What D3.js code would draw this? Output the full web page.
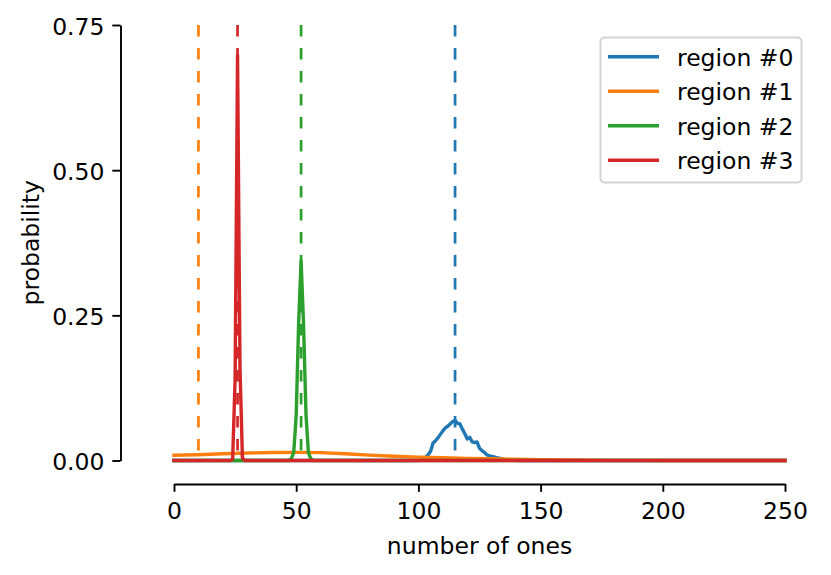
<!DOCTYPE html>
<html>
<head>
<meta charset="utf-8">
<script src="https://cdn.jsdelivr.net/npm/d3@7/dist/d3.min.js"></script>
<style>
  html, body { margin: 0; padding: 0; background: #fff; }
  text { font-family: "DejaVu Sans", sans-serif; }
</style>
</head>
<body>
<svg id="chart" width="831" height="575"></svg>
<script>
// ---------- data ----------
const regionNames = ["region #0", "region #1", "region #2", "region #3"];
const regionColors = ["#1f77b4", "#ff7f0e", "#2ca02c", "#d62728"];
const regionMeans = [115, 10, 52, 26];

const xTicks = [0, 50, 100, 150, 200, 250];
const yTicks = [0.00, 0.25, 0.50, 0.75];

// region #0 : integer counts starting at 100
const region0Start = 100;
const region0Values = [0.000, 0.001, 0.003, 0.006, 0.010, 0.016, 0.030, 0.034, 0.039, 0.045,
                       0.051, 0.056, 0.059, 0.063, 0.067, 0.069, 0.064, 0.063, 0.054, 0.046,
                       0.037, 0.040, 0.032, 0.031, 0.032, 0.021, 0.017, 0.014, 0.010, 0.008,
                       0.007, 0.006, 0.005, 0.004, 0.003, 0.002, 0.0015, 0.001, 0.0008, 0.0005, 0.0003];

// region #1 : broad curve, sampled every 10 ones from 0 to 250
const region1X = [0, 10, 20, 30, 40, 50, 60, 70, 80, 90, 100, 110, 120, 130, 140, 150, 160, 170, 180, 190, 200, 210, 220, 230, 240, 250];
const region1Values = [0.0090, 0.0100, 0.0115, 0.0128, 0.0137, 0.0140, 0.0135, 0.0115, 0.0092, 0.0074,
                       0.0059, 0.0047, 0.0037, 0.0029, 0.0022, 0.0015, 0.0010, 0.0006, 0.0003, 0.0002,
                       0.0001, 0.0, 0.0, 0.0, 0.0, 0.0];

// region #2 : integer counts starting at 48
const region2Start = 48;
const region2Values = [0.003, 0.014, 0.078, 0.237, 0.344, 0.235, 0.080, 0.013, 0.003];

// region #3 : integer counts starting at 24
const region3Start = 24;
const region3Values = [0.002, 0.140, 0.698, 0.160, 0.004];

// ---------- build full series over 0..250 ----------
const allX = d3.range(0, 251);
function fullSeries(start, values) {
  return allX.map(x => {
    const i = x - start;
    return [x, (i >= 0 && i < values.length) ? values[i] : 0];
  });
}
const series = [
  fullSeries(region0Start, region0Values),
  region1X.map((x, i) => [x, region1Values[i]]),
  fullSeries(region2Start, region2Values),
  fullSeries(region3Start, region3Values)
];

// ---------- layout ----------
const svg = d3.select("#chart");
const FONT = 23.5;
const x = d3.scaleLinear().domain([0, 250]).range([174, 785]);
const y = d3.scaleLinear().domain([0, 0.75]).range([460.5, 25]);

const line = d3.line().x(d => x(d[0])).y(d => y(d[1]));

// ---------- marks ----------
const gMarks = svg.append("g");
series.forEach((s, i) => {
  gMarks.append("path")
    .datum(s)
    .attr("d", line)
    .attr("fill", "none")
    .attr("stroke", regionColors[i])
    .attr("stroke-width", 3.4)
    .attr("stroke-linejoin", "round")
    .attr("stroke-linecap", "square");
  gMarks.append("line")
    .attr("x1", x(regionMeans[i])).attr("x2", x(regionMeans[i]))
    .attr("y1", y(0.75)).attr("y2", y(0))
    .attr("stroke", regionColors[i])
    .attr("stroke-width", 2.7)
    .attr("stroke-dasharray", "11.5 11.5");
});

// ---------- axes ----------
const yAxis = d3.axisLeft(y).tickValues(yTicks).tickFormat(d3.format(".2f"))
  .tickSize(8.2).tickSizeOuter(0).tickPadding(10);
const gy = svg.append("g").attr("transform", "translate(120.5,0)").call(yAxis);
gy.selectAll("text").attr("dy", null).attr("y", 9).attr("x", -16)
  .style("font-size", FONT + "px").attr("fill", "#000");

const xAxis = d3.axisBottom(x).tickValues(xTicks).tickFormat(d3.format("d"))
  .tickSize(7.8).tickSizeOuter(0);
const gx = svg.append("g").attr("transform", "translate(0,484)").call(xAxis);
gx.selectAll("text").attr("dy", null).attr("y", 34.5)
  .style("font-size", FONT + "px").attr("fill", "#000");

[gx, gy].forEach(g => {
  g.attr("font-family", null).attr("font-size", null);
  g.selectAll("path, line").attr("stroke", "#000").attr("stroke-width", 1.9);
});

svg.append("text")
  .attr("x", 479.5).attr("y", 553.5)
  .attr("text-anchor", "middle")
  .style("font-size", FONT + "px")
  .text("number of ones");

svg.append("text")
  .attr("transform", "translate(38.5,242.7) rotate(-90)")
  .attr("text-anchor", "middle")
  .style("font-size", FONT + "px")
  .text("probability");

// ---------- legend ----------
const legend = svg.append("g");
legend.append("rect")
  .attr("x", 600.5).attr("y", 37.5)
  .attr("width", 201).attr("height", 145)
  .attr("rx", 4).attr("ry", 4)
  .attr("fill", "#fff").attr("fill-opacity", 0.8)
  .attr("stroke", "#d3d3d3").attr("stroke-width", 2);

regionNames.forEach((name, i) => {
  const ly = 56.7 + i * 34.5;
  legend.append("line")
    .attr("x1", 608).attr("x2", 659)
    .attr("y1", ly).attr("y2", ly)
    .attr("stroke", regionColors[i]).attr("stroke-width", 3.4);
  legend.append("text")
    .attr("x", 677).attr("y", ly + 9)
    .style("font-size", FONT + "px")
    .text(name);
});
</script>
</body>
</html>
